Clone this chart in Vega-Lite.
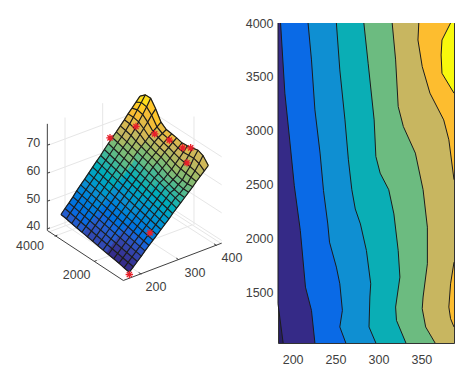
{"$schema":"https://vega.github.io/schema/vega-lite/v6.json","background":"white","padding":{"left":0,"top":16,"right":0,"bottom":0},"spacing":-6,"config":{"view":{"stroke":null},"font":"Liberation Sans","axis":{"labelFont":"Liberation Sans","labelFontSize":12.5,"labelColor":"#404040"}},
"datasets":{
"guides":[{"g":"f1","k":"grid","lon":55,"lat":455},{"g":"f1","k":"grid","lon":350,"lat":345},{"g":"f1","k":"grid","lon":575,"lat":490},
{"g":"x1","k":"grid","lon":334,"lat":581},{"g":"x1","k":"grid","lon":109,"lat":436},{"g":"x2","k":"grid","lon":447,"lat":538},{"g":"x2","k":"grid","lon":222,"lat":393},{"g":"x3","k":"grid","lon":560,"lat":495},{"g":"x3","k":"grid","lon":335,"lat":350},
{"g":"y1","k":"grid","lon":192,"lat":543},{"g":"y1","k":"grid","lon":487,"lat":433},{"g":"y2","k":"grid","lon":74,"lat":467},{"g":"y2","k":"grid","lon":369,"lat":357},
{"g":"v1","k":"grid","lon":105,"lat":436},{"g":"v1","k":"grid","lon":105,"lat":111},{"g":"v2","k":"grid","lon":218,"lat":393},{"g":"v2","k":"grid","lon":218,"lat":68},{"g":"v3","k":"grid","lon":492,"lat":433},{"g":"v3","k":"grid","lon":492,"lat":108},
{"g":"z1","k":"grid","lon":55,"lat":445},{"g":"z1","k":"grid","lon":350,"lat":335},{"g":"z1","k":"grid","lon":575,"lat":480},
{"g":"z2","k":"grid","lon":55,"lat":362},{"g":"z2","k":"grid","lon":350,"lat":252},{"g":"z2","k":"grid","lon":575,"lat":397},
{"g":"z3","k":"grid","lon":55,"lat":278},{"g":"z3","k":"grid","lon":350,"lat":168},{"g":"z3","k":"grid","lon":575,"lat":313},
{"g":"z4","k":"grid","lon":55,"lat":194},{"g":"z4","k":"grid","lon":350,"lat":84},{"g":"z4","k":"grid","lon":575,"lat":229},
{"g":"ax","k":"axis","lon":52,"lat":130},{"g":"ax","k":"axis","lon":52,"lat":450},{"g":"ax","k":"axis","lon":280,"lat":600},{"g":"ax","k":"axis","lon":575,"lat":488},
{"g":"t1","k":"axis","lon":52,"lat":445},{"g":"t1","k":"axis","lon":60,"lat":442},{"g":"t2","k":"axis","lon":52,"lat":362},{"g":"t2","k":"axis","lon":60,"lat":359},{"g":"t3","k":"axis","lon":52,"lat":278},{"g":"t3","k":"axis","lon":60,"lat":275},{"g":"t4","k":"axis","lon":52,"lat":194},{"g":"t4","k":"axis","lon":60,"lat":191},
{"g":"t5","k":"axis","lon":334,"lat":581},{"g":"t5","k":"axis","lon":326,"lat":576},{"g":"t6","k":"axis","lon":447,"lat":538},{"g":"t6","k":"axis","lon":439,"lat":533},{"g":"t7","k":"axis","lon":560,"lat":495},{"g":"t7","k":"axis","lon":552,"lat":490},
{"g":"t8","k":"axis","lon":192,"lat":543},{"g":"t8","k":"axis","lon":200,"lat":540},{"g":"t9","k":"axis","lon":74,"lat":467},{"g":"t9","k":"axis","lon":82,"lat":464}],
"labels":[{"t":"70","lon":10,"lat":189},{"t":"60","lon":10,"lat":273},{"t":"50","lon":10,"lat":357},{"t":"40","lon":10,"lat":438},{"t":"4000","lon":0,"lat":498},{"t":"2000","lon":140,"lat":585},{"t":"200","lon":378,"lat":621},{"t":"300","lon":495,"lat":579},{"t":"400","lon":606,"lat":534}],
"stars":[{"lon":298,"lat":582},{"lon":360,"lat":457},{"lon":240,"lat":172},{"lon":318,"lat":138},{"lon":374,"lat":160},{"lon":418,"lat":179},{"lon":458,"lat":202},{"lon":482,"lat":202},{"lon":471,"lat":247}],
"patches":[
{"s":5,"g":{"type":"Polygon","coordinates":[[[93,402],[298,575],[452,367],[535,255],[519,225],[504,209],[488,203],[472,196],[456,187],[440,172],[425,160],[409,147],[393,125],[377,85],[362,53],[346,43],[330,47],[93,402]]]}},
{"s":0.8,"g":{"type":"Polygon","coordinates":[[[93,402],[161,460],[173,443],[105,384],[93,402]]]}},
{"s":1.0,"g":{"type":"Polygon","coordinates":[[[105,384],[173,443],[185,425],[117,367],[105,384]]]}},
{"s":1.2,"g":{"type":"Polygon","coordinates":[[[117,367],[185,425],[197,408],[129,349],[117,367]]]}},
{"s":1.45,"g":{"type":"Polygon","coordinates":[[[129,349],[197,408],[209,391],[140,331],[129,349]]]}},
{"s":1.7,"g":{"type":"Polygon","coordinates":[[[140,331],[209,391],[221,374],[152,313],[140,331]]]}},
{"s":1.98,"g":{"type":"Polygon","coordinates":[[[152,313],[221,374],[232,357],[164,296],[152,313]]]}},
{"s":2.29,"g":{"type":"Polygon","coordinates":[[[164,296],[232,357],[244,339],[176,278],[164,296]]]}},
{"s":2.6,"g":{"type":"Polygon","coordinates":[[[176,278],[244,339],[256,322],[188,260],[176,278]]]}},
{"s":2.91,"g":{"type":"Polygon","coordinates":[[[188,260],[256,322],[268,305],[200,242],[188,260]]]}},
{"s":3.22,"g":{"type":"Polygon","coordinates":[[[200,242],[268,305],[280,288],[212,225],[200,242]]]}},
{"s":3.53,"g":{"type":"Polygon","coordinates":[[[212,225],[280,288],[292,271],[223,207],[212,225]]]}},
{"s":3.84,"g":{"type":"Polygon","coordinates":[[[223,207],[292,271],[304,254],[235,189],[223,207]]]}},
{"s":4.15,"g":{"type":"Polygon","coordinates":[[[235,189],[304,254],[315,236],[247,171],[235,189]]]}},
{"s":0.5,"g":{"type":"Polygon","coordinates":[[[161,460],[230,517],[242,501],[173,443],[161,460]]]}},
{"s":0.65,"g":{"type":"Polygon","coordinates":[[[173,443],[242,501],[253,484],[185,425],[173,443]]]}},
{"s":0.8,"g":{"type":"Polygon","coordinates":[[[185,425],[253,484],[265,468],[197,408],[185,425]]]}},
{"s":0.95,"g":{"type":"Polygon","coordinates":[[[197,408],[265,468],[277,451],[209,391],[197,408]]]}},
{"s":1.15,"g":{"type":"Polygon","coordinates":[[[209,391],[277,451],[289,434],[221,374],[209,391]]]}},
{"s":1.4,"g":{"type":"Polygon","coordinates":[[[221,374],[289,434],[301,418],[232,357],[221,374]]]}},
{"s":1.69,"g":{"type":"Polygon","coordinates":[[[232,357],[301,418],[313,401],[244,339],[232,357]]]}},
{"s":1.98,"g":{"type":"Polygon","coordinates":[[[244,339],[313,401],[324,385],[256,322],[244,339]]]}},
{"s":2.27,"g":{"type":"Polygon","coordinates":[[[256,322],[324,385],[336,368],[268,305],[256,322]]]}},
{"s":2.56,"g":{"type":"Polygon","coordinates":[[[268,305],[336,368],[348,351],[280,288],[268,305]]]}},
{"s":2.85,"g":{"type":"Polygon","coordinates":[[[280,288],[348,351],[360,335],[292,271],[280,288]]]}},
{"s":3.14,"g":{"type":"Polygon","coordinates":[[[292,271],[360,335],[372,318],[304,254],[292,271]]]}},
{"s":3.43,"g":{"type":"Polygon","coordinates":[[[304,254],[372,318],[384,302],[315,236],[304,254]]]}},
{"s":0.05,"g":{"type":"Polygon","coordinates":[[[230,517],[298,575],[310,559],[242,501],[230,517]]]}},
{"s":0.2,"g":{"type":"Polygon","coordinates":[[[242,501],[310,559],[322,543],[253,484],[242,501]]]}},
{"s":0.4,"g":{"type":"Polygon","coordinates":[[[253,484],[322,543],[334,527],[265,468],[253,484]]]}},
{"s":0.62,"g":{"type":"Polygon","coordinates":[[[265,468],[334,527],[345,511],[277,451],[265,468]]]}},
{"s":0.89,"g":{"type":"Polygon","coordinates":[[[277,451],[345,511],[357,495],[289,434],[277,451]]]}},
{"s":1.18,"g":{"type":"Polygon","coordinates":[[[289,434],[357,495],[369,479],[301,418],[289,434]]]}},
{"s":1.46,"g":{"type":"Polygon","coordinates":[[[301,418],[369,479],[381,463],[313,401],[301,418]]]}},
{"s":1.75,"g":{"type":"Polygon","coordinates":[[[313,401],[381,463],[393,447],[324,385],[313,401]]]}},
{"s":2.04,"g":{"type":"Polygon","coordinates":[[[324,385],[393,447],[405,431],[336,368],[324,385]]]}},
{"s":2.33,"g":{"type":"Polygon","coordinates":[[[336,368],[405,431],[417,415],[348,351],[336,368]]]}},
{"s":2.61,"g":{"type":"Polygon","coordinates":[[[348,351],[417,415],[428,399],[360,335],[348,351]]]}},
{"s":2.9,"g":{"type":"Polygon","coordinates":[[[360,335],[428,399],[440,383],[372,318],[360,335]]]}},
{"s":3.19,"g":{"type":"Polygon","coordinates":[[[372,318],[440,383],[452,367],[384,302],[372,318]]]}},
{"s":4.65,"g":{"type":"Polygon","coordinates":[[[247,171],[279,201],[291,184],[259,154],[247,171]]]}},
{"s":4.31,"g":{"type":"Polygon","coordinates":[[[279,201],[310,231],[322,214],[291,184],[279,201]]]}},
{"s":3.9,"g":{"type":"Polygon","coordinates":[[[310,231],[357,277],[369,260],[322,214],[310,231]]]}},
{"s":3.6,"g":{"type":"Polygon","coordinates":[[[357,277],[405,322],[417,311],[369,260],[357,277]]]}},
{"s":3.43,"g":{"type":"Polygon","coordinates":[[[405,322],[452,367],[464,351],[417,311],[405,322]]]}},
{"s":4.97,"g":{"type":"Polygon","coordinates":[[[259,154],[291,184],[303,165],[271,136],[259,154]]]}},
{"s":4.61,"g":{"type":"Polygon","coordinates":[[[291,184],[322,214],[334,198],[303,165],[291,184]]]}},
{"s":4.19,"g":{"type":"Polygon","coordinates":[[[322,214],[369,260],[381,245],[334,198],[322,214]]]}},
{"s":3.89,"g":{"type":"Polygon","coordinates":[[[369,260],[417,311],[429,297],[381,245],[369,260]]]}},
{"s":3.72,"g":{"type":"Polygon","coordinates":[[[417,311],[464,351],[476,335],[429,297],[417,311]]]}},
{"s":5.28,"g":{"type":"Polygon","coordinates":[[[271,136],[303,165],[315,145],[283,118],[271,136]]]}},
{"s":4.92,"g":{"type":"Polygon","coordinates":[[[303,165],[334,198],[346,183],[315,145],[303,165]]]}},
{"s":4.48,"g":{"type":"Polygon","coordinates":[[[334,198],[381,245],[393,230],[346,183],[334,198]]]}},
{"s":4.18,"g":{"type":"Polygon","coordinates":[[[381,245],[429,297],[441,284],[393,230],[381,245]]]}},
{"s":4.0,"g":{"type":"Polygon","coordinates":[[[429,297],[476,335],[488,319],[441,284],[429,297]]]}},
{"s":5.6,"g":{"type":"Polygon","coordinates":[[[283,118],[315,145],[326,124],[294,100],[283,118]]]}},
{"s":5.23,"g":{"type":"Polygon","coordinates":[[[315,145],[346,183],[357,168],[326,124],[315,145]]]}},
{"s":4.78,"g":{"type":"Polygon","coordinates":[[[346,183],[393,230],[404,215],[357,168],[346,183]]]}},
{"s":4.47,"g":{"type":"Polygon","coordinates":[[[393,230],[441,284],[452,265],[404,215],[393,230]]]}},
{"s":4.29,"g":{"type":"Polygon","coordinates":[[[441,284],[488,319],[499,303],[452,265],[441,284]]]}},
{"s":5.91,"g":{"type":"Polygon","coordinates":[[[294,100],[326,124],[338,102],[306,83],[294,100]]]}},
{"s":5.53,"g":{"type":"Polygon","coordinates":[[[326,124],[357,168],[369,153],[338,102],[326,124]]]}},
{"s":5.07,"g":{"type":"Polygon","coordinates":[[[357,168],[404,215],[416,201],[369,153],[357,168]]]}},
{"s":4.76,"g":{"type":"Polygon","coordinates":[[[404,215],[452,265],[464,246],[416,201],[404,215]]]}},
{"s":4.57,"g":{"type":"Polygon","coordinates":[[[452,265],[499,303],[511,287],[464,246],[452,265]]]}},
{"s":6.23,"g":{"type":"Polygon","coordinates":[[[306,83],[338,102],[350,79],[318,65],[306,83]]]}},
{"s":5.84,"g":{"type":"Polygon","coordinates":[[[338,102],[369,153],[381,139],[350,79],[338,102]]]}},
{"s":5.37,"g":{"type":"Polygon","coordinates":[[[369,153],[416,201],[428,186],[381,139],[369,153]]]}},
{"s":5.05,"g":{"type":"Polygon","coordinates":[[[416,201],[464,246],[476,224],[428,186],[416,201]]]}},
{"s":4.86,"g":{"type":"Polygon","coordinates":[[[464,246],[511,287],[523,271],[476,224],[464,246]]]}},
{"s":6.54,"g":{"type":"Polygon","coordinates":[[[318,65],[350,79],[362,53],[346,43],[330,47],[318,65]]]}},
{"s":6.14,"g":{"type":"Polygon","coordinates":[[[350,79],[381,139],[393,125],[377,85],[362,53],[350,79]]]}},
{"s":5.67,"g":{"type":"Polygon","coordinates":[[[381,139],[428,186],[440,172],[425,160],[409,147],[393,125],[381,139]]]}},
{"s":5.34,"g":{"type":"Polygon","coordinates":[[[428,186],[476,224],[488,203],[472,196],[456,187],[440,172],[428,186]]]}},
{"s":5.15,"g":{"type":"Polygon","coordinates":[[[476,224],[523,271],[535,255],[519,225],[504,209],[488,203],[476,224]]]}}],
"mesh":[
{"i":0,"j":0,"lon":93,"lat":402},{"i":1,"j":0,"lon":109,"lat":415},{"i":2,"j":0,"lon":125,"lat":429},{"i":3,"j":0,"lon":140,"lat":442},{"i":4,"j":0,"lon":156,"lat":455},{"i":5,"j":0,"lon":172,"lat":469},{"i":6,"j":0,"lon":188,"lat":482},{"i":7,"j":0,"lon":203,"lat":495},{"i":8,"j":0,"lon":219,"lat":509},{"i":9,"j":0,"lon":235,"lat":522},{"i":10,"j":0,"lon":251,"lat":535},{"i":11,"j":0,"lon":267,"lat":548},{"i":12,"j":0,"lon":282,"lat":562},{"i":13,"j":0,"lon":298,"lat":575},
{"i":0,"j":1,"lon":105,"lat":384},{"i":13,"j":1,"lon":310,"lat":559},{"i":0,"j":2,"lon":117,"lat":367},{"i":13,"j":2,"lon":322,"lat":543},{"i":0,"j":3,"lon":129,"lat":349},{"i":13,"j":3,"lon":334,"lat":527},{"i":0,"j":4,"lon":140,"lat":331},{"i":13,"j":4,"lon":345,"lat":511},{"i":0,"j":5,"lon":152,"lat":313},{"i":13,"j":5,"lon":357,"lat":495},{"i":0,"j":6,"lon":164,"lat":296},{"i":13,"j":6,"lon":369,"lat":479},{"i":0,"j":7,"lon":176,"lat":278},{"i":13,"j":7,"lon":381,"lat":463},{"i":0,"j":8,"lon":188,"lat":260},{"i":13,"j":8,"lon":393,"lat":447},{"i":0,"j":9,"lon":200,"lat":242},{"i":13,"j":9,"lon":405,"lat":431},{"i":0,"j":10,"lon":212,"lat":225},{"i":13,"j":10,"lon":417,"lat":415},{"i":0,"j":11,"lon":223,"lat":207},{"i":13,"j":11,"lon":428,"lat":399},{"i":0,"j":12,"lon":235,"lat":189},{"i":13,"j":12,"lon":440,"lat":383},
{"i":0,"j":13,"lon":247,"lat":171},{"i":1,"j":13,"lon":263,"lat":186},{"i":2,"j":13,"lon":279,"lat":201},{"i":3,"j":13,"lon":294,"lat":216},{"i":4,"j":13,"lon":310,"lat":231},{"i":5,"j":13,"lon":326,"lat":247},{"i":6,"j":13,"lon":342,"lat":262},{"i":7,"j":13,"lon":357,"lat":277},{"i":8,"j":13,"lon":373,"lat":292},{"i":9,"j":13,"lon":389,"lat":307},{"i":10,"j":13,"lon":405,"lat":322},{"i":11,"j":13,"lon":420,"lat":337},{"i":12,"j":13,"lon":436,"lat":352},{"i":13,"j":13,"lon":452,"lat":367},
{"i":0,"j":14,"lon":259,"lat":154},{"i":1,"j":14,"lon":275,"lat":169},{"i":2,"j":14,"lon":291,"lat":184},{"i":3,"j":14,"lon":306,"lat":199},{"i":4,"j":14,"lon":322,"lat":214},{"i":5,"j":14,"lon":338,"lat":230},{"i":6,"j":14,"lon":354,"lat":245},{"i":7,"j":14,"lon":369,"lat":260},{"i":8,"j":14,"lon":385,"lat":279},{"i":9,"j":14,"lon":401,"lat":296},{"i":10,"j":14,"lon":417,"lat":311},{"i":11,"j":14,"lon":433,"lat":327},{"i":12,"j":14,"lon":448,"lat":340},{"i":13,"j":14,"lon":464,"lat":351},
{"i":0,"j":15,"lon":271,"lat":136},{"i":1,"j":15,"lon":287,"lat":150},{"i":2,"j":15,"lon":303,"lat":165},{"i":3,"j":15,"lon":318,"lat":182},{"i":4,"j":15,"lon":334,"lat":198},{"i":5,"j":15,"lon":350,"lat":214},{"i":6,"j":15,"lon":366,"lat":230},{"i":7,"j":15,"lon":381,"lat":245},{"i":8,"j":15,"lon":397,"lat":263},{"i":9,"j":15,"lon":413,"lat":281},{"i":10,"j":15,"lon":429,"lat":297},{"i":11,"j":15,"lon":445,"lat":312},{"i":12,"j":15,"lon":460,"lat":325},{"i":13,"j":15,"lon":476,"lat":335},
{"i":0,"j":16,"lon":283,"lat":118},{"i":1,"j":16,"lon":299,"lat":130},{"i":2,"j":16,"lon":315,"lat":145},{"i":3,"j":16,"lon":330,"lat":162},{"i":4,"j":16,"lon":346,"lat":183},{"i":5,"j":16,"lon":362,"lat":200},{"i":6,"j":16,"lon":378,"lat":216},{"i":7,"j":16,"lon":393,"lat":230},{"i":8,"j":16,"lon":409,"lat":248},{"i":9,"j":16,"lon":425,"lat":266},{"i":10,"j":16,"lon":441,"lat":284},{"i":11,"j":16,"lon":457,"lat":298},{"i":12,"j":16,"lon":472,"lat":310},{"i":13,"j":16,"lon":488,"lat":319},
{"i":0,"j":17,"lon":294,"lat":100},{"i":1,"j":17,"lon":310,"lat":110},{"i":2,"j":17,"lon":326,"lat":124},{"i":3,"j":17,"lon":341,"lat":144},{"i":4,"j":17,"lon":357,"lat":168},{"i":5,"j":17,"lon":373,"lat":185},{"i":6,"j":17,"lon":389,"lat":201},{"i":7,"j":17,"lon":404,"lat":215},{"i":8,"j":17,"lon":420,"lat":233},{"i":9,"j":17,"lon":436,"lat":250},{"i":10,"j":17,"lon":452,"lat":265},{"i":11,"j":17,"lon":468,"lat":278},{"i":12,"j":17,"lon":483,"lat":290},{"i":13,"j":17,"lon":499,"lat":303},
{"i":0,"j":18,"lon":306,"lat":83},{"i":1,"j":18,"lon":322,"lat":88},{"i":2,"j":18,"lon":338,"lat":102},{"i":3,"j":18,"lon":353,"lat":125},{"i":4,"j":18,"lon":369,"lat":153},{"i":5,"j":18,"lon":385,"lat":171},{"i":6,"j":18,"lon":401,"lat":187},{"i":7,"j":18,"lon":416,"lat":201},{"i":8,"j":18,"lon":432,"lat":217},{"i":9,"j":18,"lon":448,"lat":233},{"i":10,"j":18,"lon":464,"lat":246},{"i":11,"j":18,"lon":480,"lat":258},{"i":12,"j":18,"lon":495,"lat":271},{"i":13,"j":18,"lon":511,"lat":287},
{"i":0,"j":19,"lon":318,"lat":65},{"i":1,"j":19,"lon":334,"lat":66},{"i":2,"j":19,"lon":350,"lat":79},{"i":3,"j":19,"lon":365,"lat":104},{"i":4,"j":19,"lon":381,"lat":139},{"i":5,"j":19,"lon":397,"lat":159},{"i":6,"j":19,"lon":413,"lat":173},{"i":7,"j":19,"lon":428,"lat":186},{"i":8,"j":19,"lon":444,"lat":202},{"i":9,"j":19,"lon":460,"lat":215},{"i":10,"j":19,"lon":476,"lat":224},{"i":11,"j":19,"lon":491,"lat":233},{"i":12,"j":19,"lon":507,"lat":249},{"i":13,"j":19,"lon":523,"lat":271},
{"i":0,"j":20,"lon":330,"lat":47},{"i":1,"j":20,"lon":346,"lat":43},{"i":2,"j":20,"lon":362,"lat":53},{"i":3,"j":20,"lon":377,"lat":85},{"i":4,"j":20,"lon":393,"lat":125},{"i":5,"j":20,"lon":409,"lat":147},{"i":6,"j":20,"lon":425,"lat":160},{"i":7,"j":20,"lon":440,"lat":172},{"i":8,"j":20,"lon":456,"lat":187},{"i":9,"j":20,"lon":472,"lat":196},{"i":10,"j":20,"lon":488,"lat":203},{"i":11,"j":20,"lon":504,"lat":209},{"i":12,"j":20,"lon":519,"lat":225},{"i":13,"j":20,"lon":535,"lat":255}],
"contours":[
{"b":"a","y":4000,"x":183},{"b":"a","y":1392,"x":183},{"b":"a","y":1027,"x":189},
{"b":"b","y":4000,"x":186},{"b":"b","y":3348,"x":191},{"b":"b","y":2884,"x":197},{"b":"b","y":2488,"x":202},{"b":"b","y":2072,"x":209},{"b":"b","y":1546,"x":215},{"b":"b","y":1330,"x":222},{"b":"b","y":1027,"x":226},
{"b":"c","y":4000,"x":218},{"b":"c","y":3657,"x":222},{"b":"c","y":3193,"x":226},{"b":"c","y":2791,"x":232},{"b":"c","y":2442,"x":236},{"b":"c","y":2133,"x":241},{"b":"c","y":1964,"x":243},{"b":"c","y":1732,"x":251},{"b":"c","y":1577,"x":255},{"b":"c","y":1330,"x":258},{"b":"c","y":1176,"x":255},{"b":"c","y":1027,"x":262},
{"b":"d","y":4000,"x":251},{"b":"d","y":3564,"x":255},{"b":"d","y":3100,"x":261},{"b":"d","y":2729,"x":265},{"b":"d","y":2451,"x":269},{"b":"d","y":2272,"x":273},{"b":"d","y":2133,"x":279},{"b":"d","y":1886,"x":286},{"b":"d","y":1577,"x":291},{"b":"d","y":1454,"x":290},{"b":"d","y":1176,"x":289},{"b":"d","y":1027,"x":297},
{"b":"e","y":4000,"x":283},{"b":"e","y":3626,"x":288},{"b":"e","y":3100,"x":295},{"b":"e","y":2760,"x":297},{"b":"e","y":2605,"x":302},{"b":"e","y":2451,"x":312},{"b":"e","y":2226,"x":318},{"b":"e","y":1886,"x":323},{"b":"e","y":1639,"x":325},{"b":"e","y":1361,"x":320},{"b":"e","y":1237,"x":321},{"b":"e","y":1027,"x":332},
{"b":"f","y":4000,"x":316},{"b":"f","y":3657,"x":320},{"b":"f","y":3224,"x":323},{"b":"f","y":3038,"x":329},{"b":"f","y":2791,"x":343},{"b":"f","y":2451,"x":352},{"b":"f","y":2103,"x":357},{"b":"f","y":1763,"x":357},{"b":"f","y":1454,"x":352},{"b":"f","y":1346,"x":351},{"b":"f","y":1176,"x":355},{"b":"f","y":1027,"x":366},
{"b":"g","y":4000,"x":347},{"b":"g","y":3842,"x":346},{"b":"g","y":3595,"x":351},{"b":"g","y":3348,"x":360},{"b":"g","y":3100,"x":376},{"b":"g","y":2915,"x":382},{"b":"g","y":2544,"x":388},
{"b":"g2","y":1778,"x":388},{"b":"g2","y":1577,"x":384},{"b":"g2","y":1361,"x":382},{"b":"g2","y":1253,"x":384},{"b":"g2","y":1176,"x":388},
{"b":"h","y":4000,"x":384},{"b":"h","y":3842,"x":374},{"b":"h","y":3703,"x":373},{"b":"h","y":3533,"x":374},{"b":"h","y":3348,"x":388}]},
"hconcat":[
{"width":250,"height":362,"view":{"stroke":null},"projection":{"type":"identity","scale":0.33333,"translate":[30,57.5]},
"layer":[
{"data":{"name":"guides"},"transform":[{"filter":"datum.k==='grid'"}],"mark":{"type":"line","stroke":"#e6e6e6","strokeWidth":1},"encoding":{"longitude":{"field":"lon","type":"quantitative"},"latitude":{"field":"lat","type":"quantitative"},"detail":{"field":"g"}}},
{"data":{"name":"patches"},"mark":{"type":"geoshape","strokeWidth":0.7},"encoding":{"shape":{"field":"g","type":"geojson"},
"fill":{"field":"s","type":"quantitative","legend":null,"scale":{"domain":[0,1,2,3,4,5,6,7],"range":["#352a87","#0a6ae0","#0f8fd2","#0aaeb5","#6cbb80","#c8b660","#fdbd2f","#f8f90c"]}},
"stroke":{"field":"s","type":"quantitative","legend":null,"scale":{"domain":[0,1,2,3,4,5,6,7],"range":["#352a87","#0a6ae0","#0f8fd2","#0aaeb5","#6cbb80","#c8b660","#fdbd2f","#f8f90c"]}}}},
{"data":{"name":"mesh"},"mark":{"type":"line","stroke":"#1c1c1c","strokeWidth":1.2},"encoding":{"longitude":{"field":"lon","type":"quantitative"},"latitude":{"field":"lat","type":"quantitative"},"detail":{"field":"j"},"order":{"field":"i"}}},
{"data":{"name":"mesh"},"mark":{"type":"line","stroke":"#1c1c1c","strokeWidth":1.2},"encoding":{"longitude":{"field":"lon","type":"quantitative"},"latitude":{"field":"lat","type":"quantitative"},"detail":{"field":"i"},"order":{"field":"j"}}},
{"data":{"name":"guides"},"transform":[{"filter":"datum.k==='axis'"}],"mark":{"type":"line","stroke":"#404040","strokeWidth":1},"encoding":{"longitude":{"field":"lon","type":"quantitative"},"latitude":{"field":"lat","type":"quantitative"},"detail":{"field":"g"}}},
{"data":{"name":"stars"},"mark":{"type":"point","shape":"M-1,0L1,0M0,-1L0,1M-0.7,-0.7L0.7,0.7M-0.7,0.7L0.7,-0.7","stroke":"#e8202a","strokeWidth":1.3,"size":55,"filled":false,"opacity":1},"encoding":{"longitude":{"field":"lon","type":"quantitative"},"latitude":{"field":"lat","type":"quantitative"}}},
{"data":{"name":"labels"},"mark":{"type":"text","font":"Liberation Sans","fontSize":12.5,"fill":"#404040","align":"center","baseline":"middle"},"encoding":{"longitude":{"field":"lon","type":"quantitative"},"latitude":{"field":"lat","type":"quantitative"},"text":{"field":"t"}}}
]},
{"width":176,"height":320,"data":{"name":"contours"},"view":{"fill":"#281e63","stroke":"#333333"},"resolve":{"axis":{"x":"independent","y":"independent"}},
"layer":[
{"mark":{"type":"area","orient":"horizontal"},"encoding":{
"y":{"field":"y","type":"quantitative","scale":{"domain":[1027,4000],"nice":false,"zero":false},"axis":{"values":[1500,2000,2500,3000,3500,4000],"format":"d","grid":false,"domain":false,"title":null,"tickSize":-3,"tickColor":"#333333","labelPadding":8}},
"x":{"field":"x","type":"quantitative","stack":null,"scale":{"domain":[183,388],"nice":false,"zero":false},"axis":{"values":[200,250,300,350],"grid":false,"domain":false,"title":null,"tickSize":-3,"tickColor":"#333333","labelPadding":13}},
"x2":{"datum":388},
"fill":{"field":"b","type":"nominal","legend":null,"scale":{"domain":["a","b","c","d","e","f","g","g2","h"],"range":["#352a87","#0a6ae6","#0f8fd2","#0aaeb5","#6cbb80","#c8b660","#fdbd2f","#fdbd2f","#f8f90c"]}}}},
{"mark":{"type":"line","stroke":"#1c1c1c","strokeWidth":1},"encoding":{
"y":{"field":"y","type":"quantitative","axis":{"orient":"right","values":[1500,2000,2500,3000,3500,4000],"labels":false,"grid":false,"domain":false,"title":null,"tickSize":-3,"tickColor":"#333333"}},
"x":{"field":"x","type":"quantitative","axis":{"orient":"top","values":[200,250,300,350],"labels":false,"grid":false,"domain":false,"title":null,"tickSize":-3,"tickColor":"#333333"}},
"order":{"field":"y"},
"detail":{"field":"b"}}}
]}
]}
